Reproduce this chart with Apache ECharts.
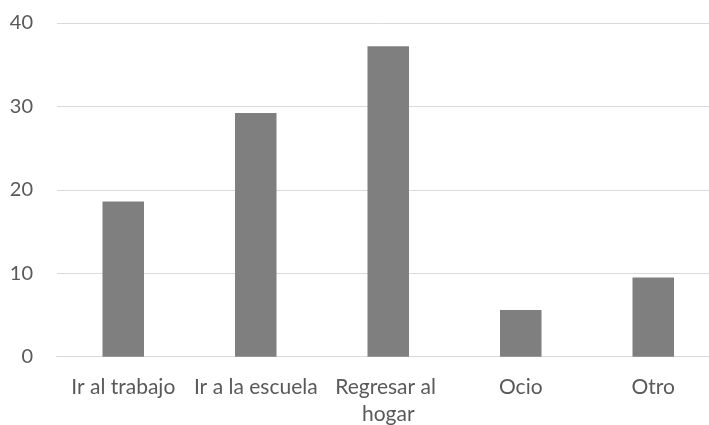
<!DOCTYPE html>
<html>
<head>
<meta charset="utf-8">
<script src="https://cdn.jsdelivr.net/npm/echarts@6/dist/echarts.min.js"></script>
<style>
  html, body { margin: 0; padding: 0; background: #ffffff; overflow: hidden; }
  #chart { width: 709px; height: 425px; }
</style>
</head>
<body>
<div id="chart"></div>
<script>
// Motivo del viaje
const categories = ['Ir al trabajo', 'Ir a la escuela', 'Regresar al hogar', 'Ocio', 'Otro'];
const values = [18.6, 29.2, 37.2, 5.6, 9.5];
const yTicks = [0, 10, 20, 30, 40];

const chart = echarts.init(document.getElementById('chart'), null, { renderer: 'canvas' });

chart.setOption({
  animation: false,
  backgroundColor: '#ffffff',
  // the plot area runs slightly past the right edge of the canvas
  grid: {
    left: 57, top: 23, right: -10.5, bottom: 68.3,
    containLabel: false,
    outerBoundsMode: 'none'
  },
  xAxis: {
    type: 'category',
    data: categories,
    axisLine: { show: true, lineStyle: { color: '#d9d9d9', width: 1 } },
    axisTick: { show: false },
    axisLabel: {
      color: '#595959',
      fontFamily: 'Lato',
      fontSize: 21,
      margin: 17,
      lineHeight: 27,
      width: 130,
      overflow: 'break',
      interval: 0
    }
  },
  yAxis: {
    type: 'value',
    min: yTicks[0],
    max: yTicks[yTicks.length - 1],
    interval: 10,
    axisLine: { show: false },
    axisTick: { show: false },
    splitLine: { lineStyle: { color: '#d9d9d9', width: 1 } },
    axisLabel: {
      color: '#595959',
      fontFamily: 'Lato',
      fontSize: 20,
      margin: 24
    }
  },
  series: [{
    type: 'bar',
    data: values,
    barWidth: 41.5,
    itemStyle: { color: '#7f7f7f' }
  }]
});
</script>
</body>
</html>
